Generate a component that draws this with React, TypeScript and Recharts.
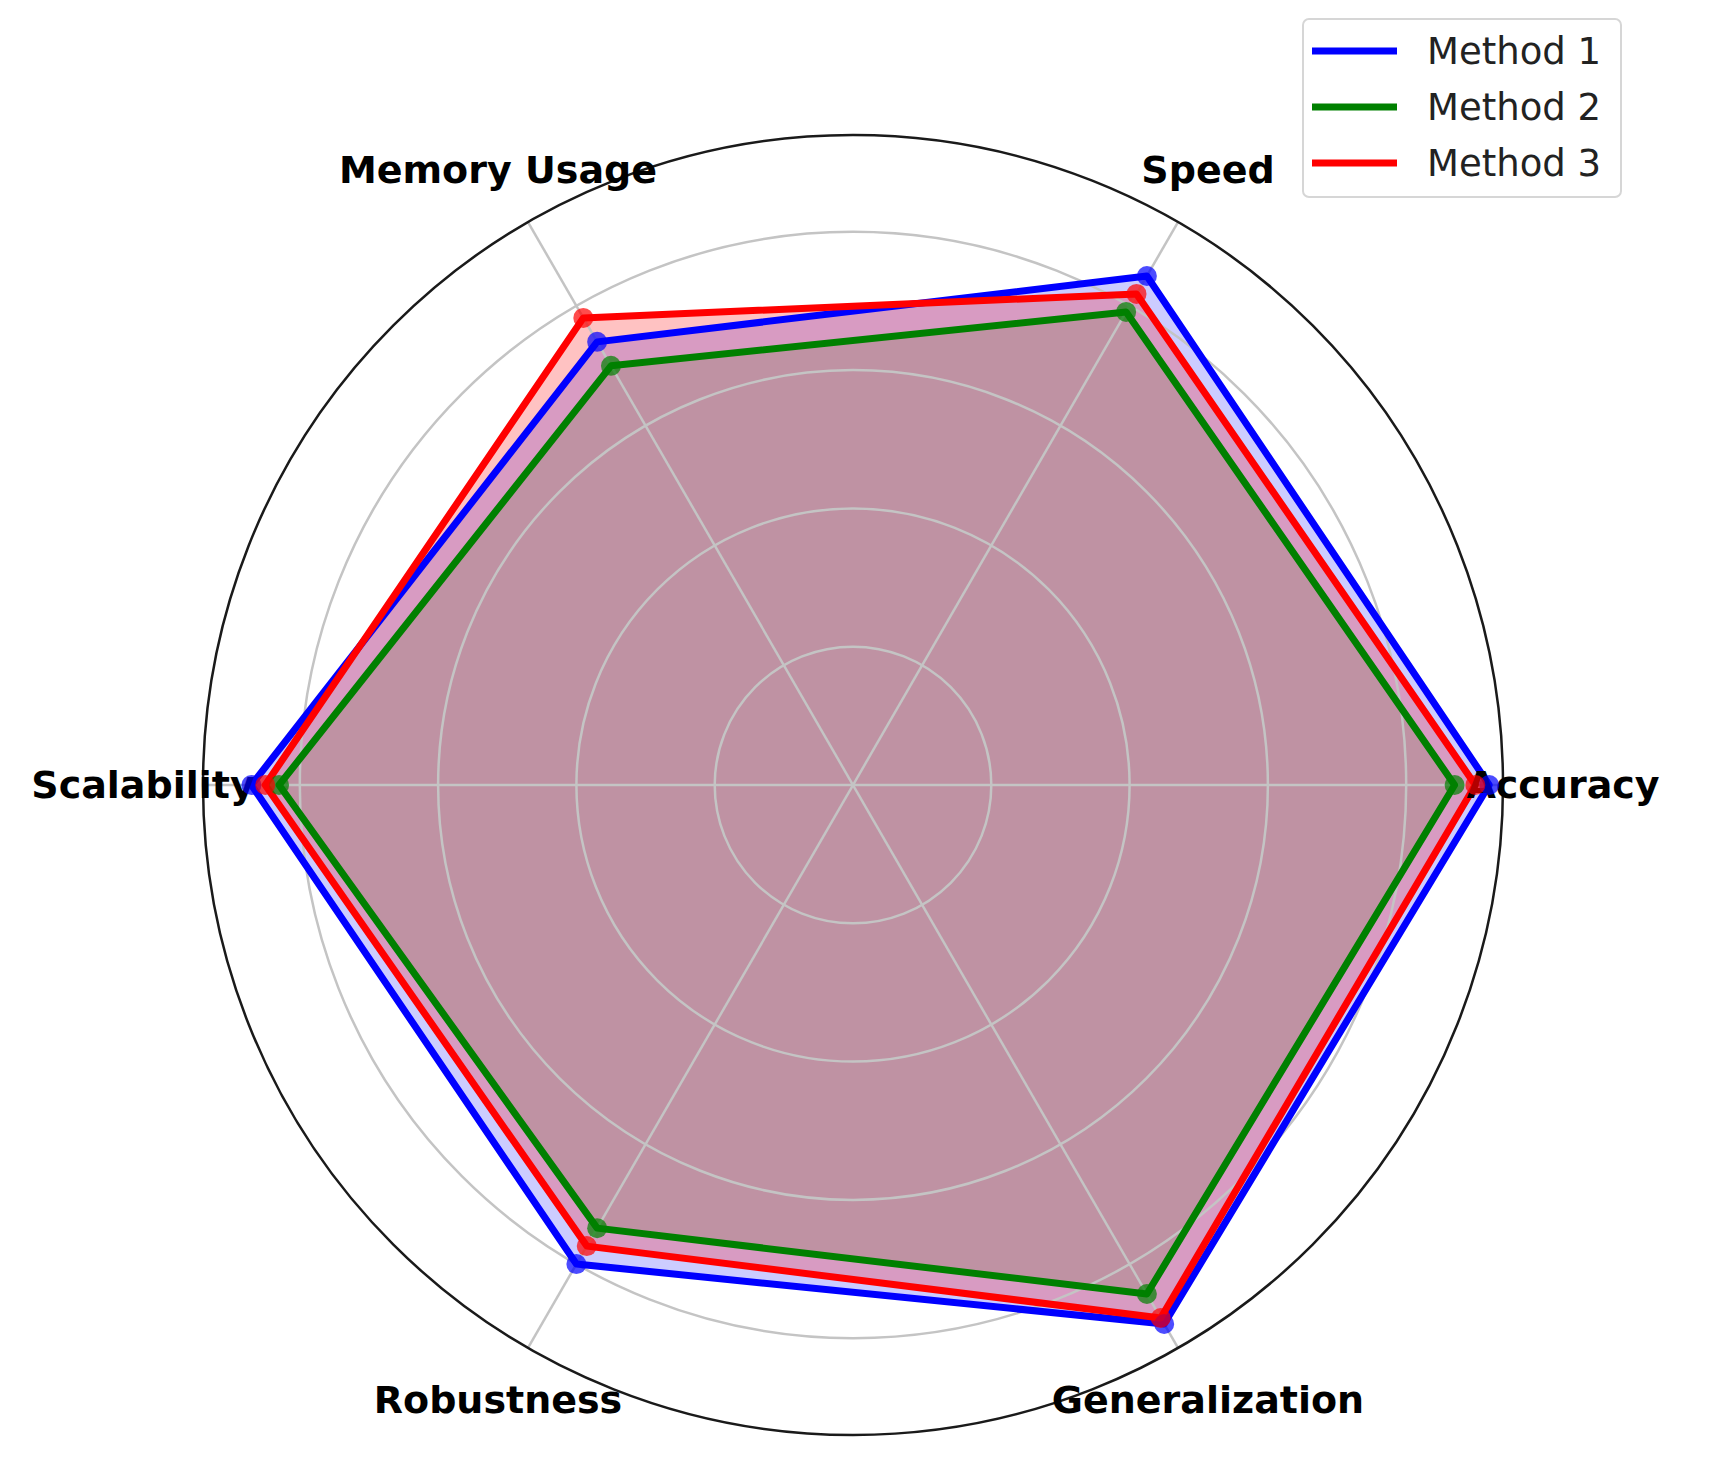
import { RadarChart, Radar, PolarGrid, PolarAngleAxis, PolarRadiusAxis, Legend } from 'recharts';

const categories = ['Accuracy', 'Speed', 'Memory Usage', 'Scalability', 'Robustness', 'Generalization'];
const method1 = [0.92, 0.85, 0.74, 0.87, 0.8, 0.9];
const method2 = [0.87, 0.79, 0.7, 0.83, 0.74, 0.85];
const method3 = [0.9, 0.82, 0.78, 0.85, 0.77, 0.89];
const radiusTicks = [0, 0.2, 0.4, 0.6, 0.8];
const radiusMax = 0.94;

const seriesNames = ['Method 1', 'Method 2', 'Method 3'];
const seriesKeys = ['m1', 'm2', 'm3'];
const seriesColors = ['#0000ff', '#008000', '#ff0000'];
const fillAlphas = [0.2, 0.16, 0.24];

// matplotlib goes counter-clockwise from the right; recharts lays the
// categories out clockwise, so feed them in reverse after the first one
const drawOrder = [0, 5, 4, 3, 2, 1];
const data = drawOrder.map((i) => ({
  category: categories[i],
  m1: method1[i],
  m2: method2[i],
  m3: method3[i],
}));

const FONT = '"DejaVu Sans", sans-serif';

function AngleTick(props: any) {
  const { x, y, payload } = props;
  return (
    <text
      x={x}
      y={y}
      textAnchor="middle"
      dominantBaseline="central"
      fontFamily={FONT}
      fontWeight="bold"
      fontSize={38}
      fill="#000"
    >
      {payload.value}
    </text>
  );
}

function LegendBox() {
  return (
    <div
      style={{
        width: 320,
        height: 180,
        boxSizing: 'border-box',
        border: '2px solid #d6d6d6',
        borderRadius: 7,
        background: 'rgba(255,255,255,0.85)',
      }}
    >
      <svg width={316} height={176}>
        {seriesNames.map((name, i) => (
          <g key={name}>
            <line
              x1={8}
              x2={93}
              y1={31 + i * 56}
              y2={31 + i * 56}
              stroke={seriesColors[i]}
              strokeWidth={7}
            />
            <text
              x={123}
              y={31 + i * 56}
              dominantBaseline="central"
              fontFamily={FONT}
              fontSize={37}
              fill="#222"
            >
              {name}
            </text>
          </g>
        ))}
      </svg>
    </div>
  );
}

export default function App() {
  // grid sits above the fills but below the outlines
  const gridProps: any = { zIndex: 150 };
  const lineProps: any = { zIndex: 200 };
  return (
    <RadarChart
      width={1715}
      height={1455}
      data={data}
      cx={845}
      cy={777}
      outerRadius={650}
      startAngle={0}
      endAngle={-360}
      margin={{ top: 0, right: 0, bottom: 0, left: 0 }}
    >
      <PolarRadiusAxis
        type="number"
        domain={[0, radiusMax]}
        ticks={radiusTicks as any}
        tickCount={48}
        allowDecimals
        allowDataOverflow
        tick={false}
        axisLine={false}
      />
      <PolarAngleAxis
        dataKey="category"
        tickSize={60}
        tickLine={false}
        axisLineType="circle"
        axisLine={{ stroke: '#1a1a1a', strokeWidth: 2.5 }}
        tick={<AngleTick />}
      />
      {seriesKeys.map((k, i) => (
        <Radar
          key={'fill-' + k}
          name={seriesNames[i]}
          dataKey={k}
          stroke="none"
          fill={seriesColors[i]}
          fillOpacity={fillAlphas[i]}
          dot={false}
          legendType="none"
          isAnimationActive={false}
        />
      ))}
      <PolarGrid gridType="circle" stroke="#c4c4c4" strokeWidth={2.5} {...gridProps} />
      {seriesKeys.map((k, i) => (
        <Radar
          key={'line-' + k}
          name={seriesNames[i]}
          dataKey={k}
          stroke={seriesColors[i]}
          strokeWidth={7}
          strokeLinejoin="round"
          fill="none"
          dot={{ r: 10, fill: seriesColors[i], fillOpacity: 0.7, strokeWidth: 0 }}
          isAnimationActive={false}
          {...lineProps}
        />
      ))}
      <Legend
        content={<LegendBox />}
        wrapperStyle={{ position: 'absolute', left: 1294, top: 10, width: 320, height: 180 }}
      />
    </RadarChart>
  );
}
